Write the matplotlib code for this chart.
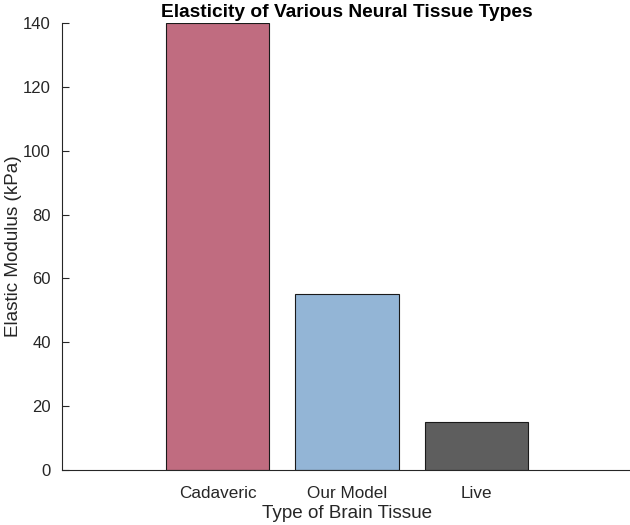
import matplotlib
matplotlib.use("Agg")
import matplotlib.pyplot as plt

categories = ["Cadaveric", "Our Model", "Live"]
values = [140, 55, 15]
colors = ["#C06C80", "#93B5D6", "#5E5E5E"]

plt.rcParams['font.family'] = ['Liberation Sans', 'DejaVu Sans']

W, H = 630, 525
fig = plt.figure(figsize=(W/100, H/100), dpi=100)
ax = fig.add_axes([62/W, 1 - 469.5/H, (632-62)/W, (469.5-23.5)/H])

pos = [1, 2, 3]
ax.bar(pos, values, width=0.8, color=colors, edgecolor="#1a1a1a", linewidth=0.8, zorder=2)
ax.set_xlim(-0.2, 4.2)
ax.set_ylim(0, 140)
ax.set_xticks(pos)
ax.set_xticklabels(categories)
ax.set_yticks(range(0, 141, 20))
ax.tick_params(axis='x', length=0, labelsize=12.3, colors="#262626", pad=12)
ax.tick_params(axis='y', direction='in', length=5, labelsize=12, colors="#262626", pad=8)
for s in ["top", "right"]:
    ax.spines[s].set_visible(False)
for s in ["left", "bottom"]:
    ax.spines[s].set_color("#262626")
    ax.spines[s].set_linewidth(0.8)

ax.set_title("Elasticity of Various Neural Tissue Types", fontsize=13.8, fontweight='bold', pad=5, color="#000000")
ax.set_xlabel("Type of Brain Tissue", fontsize=13.6, color="#262626", labelpad=3)
ax.set_ylabel("Elastic Modulus (kPa)", fontsize=13.6, color="#262626", labelpad=1)

fig.savefig("out.png", dpi=100)
